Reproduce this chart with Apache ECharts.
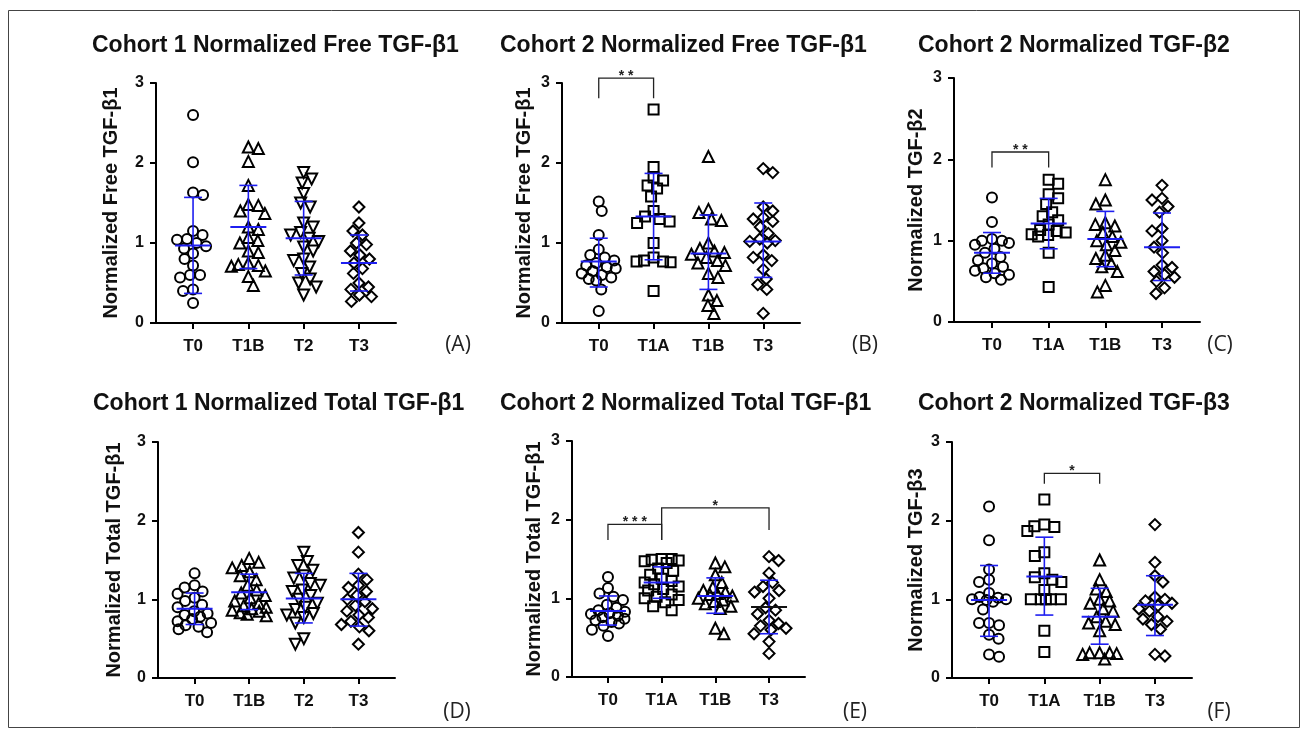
<!DOCTYPE html>
<html><head><meta charset="utf-8">
<script src="https://cdn.jsdelivr.net/npm/echarts@6/dist/echarts.min.js"></script>
<style>html,body{margin:0;padding:0;background:#fff}#c{width:1308px;height:738px}</style>
</head><body><div id="c"></div>
<script>
// ---------- DATA ----------
const titles = ['Cohort 1 Normalized Free TGF-\u03b21','Cohort 2 Normalized Free TGF-\u03b21','Cohort 2 Normalized TGF-\u03b22',
  'Cohort 1 Normalized Total TGF-\u03b21','Cohort 2 Normalized Total TGF-\u03b21','Cohort 2 Normalized TGF-\u03b23'];
const yNames = ['Normalized Free TGF-\u03b21','Normalized Free TGF-\u03b21','Normalized TGF-\u03b22',
  'Normalized Total TGF-\u03b21','Normalized Total TGF-\u03b21','Normalized TGF-\u03b23'];
const panelTags = ['(A)','(B)','(C)','(D)','(E)','(F)'];
const cohort1Cats = ['T0','T1B','T2','T3'];
const cohort2Cats = ['T0','T1A','T1B','T3'];
const yTicks = [0,1,2,3];

// Panel A
const aVals = [
  [2.6,2.01,1.63,1.6,1.15,1.1,1.05,1.04,1.0,0.96,0.93,0.87,0.8,0.72,0.6,0.6,0.57,0.42,0.4,0.25],
  [2.2,2.18,2.02,1.72,1.48,1.47,1.4,1.37,1.2,1.17,1.07,1.03,1.0,0.9,0.88,0.75,0.73,0.72,0.71,0.65,0.58,0.47],
  [1.88,1.8,1.75,1.62,1.5,1.45,1.25,1.2,1.13,1.1,1.06,1.02,0.95,0.9,0.8,0.78,0.7,0.62,0.55,0.5,0.45,0.35],
  [1.45,1.25,1.15,1.1,1.0,0.98,0.9,0.85,0.8,0.75,0.68,0.62,0.5,0.45,0.42,0.35,0.33,0.27]
];
const aMean = [0.97,1.2,1.06,0.75], aLow = [0.37,0.68,0.6,0.4], aHigh = [1.57,1.72,1.52,1.1];
// Panel B
const bVals = [
  [1.52,1.4,1.1,0.92,0.85,0.82,0.78,0.75,0.72,0.7,0.68,0.65,0.62,0.6,0.57,0.55,0.53,0.42,0.15],
  [2.67,1.95,1.82,1.78,1.72,1.68,1.58,1.4,1.33,1.3,1.27,1.25,1.0,0.82,0.78,0.77,0.77,0.76,0.4],
  [2.08,1.42,1.38,1.3,1.28,1.0,0.93,0.9,0.88,0.86,0.82,0.78,0.75,0.72,0.62,0.57,0.35,0.28,0.22,0.12],
  [1.93,1.88,1.45,1.4,1.32,1.3,1.27,1.2,1.12,1.05,1.03,1.02,1.0,0.85,0.82,0.78,0.67,0.55,0.48,0.42,0.12]
];
const bMean = [0.77,1.33,0.87,1.02], bLow = [0.45,0.79,0.42,0.57], bHigh = [1.06,1.87,1.35,1.5];
// Panel C
const cVals = [
  [1.53,1.23,1.02,1.0,1.0,0.97,0.95,0.9,0.85,0.8,0.76,0.72,0.68,0.66,0.63,0.6,0.58,0.55,0.52],
  [1.75,1.7,1.57,1.52,1.45,1.35,1.3,1.25,1.2,1.13,1.12,1.1,1.08,1.07,1.05,0.85,0.43],
  [1.75,1.5,1.45,1.22,1.2,1.18,1.1,1.05,1.0,0.98,0.95,0.88,0.82,0.78,0.72,0.68,0.62,0.45,0.37],
  [1.68,1.52,1.5,1.42,1.35,1.15,1.12,1.0,0.92,0.85,0.7,0.67,0.62,0.58,0.55,0.5,0.42,0.35]
];
const cMean = [0.85,1.21,1.02,0.92], cLow = [0.6,0.9,0.68,0.51], cHigh = [1.1,1.52,1.36,1.34];
// Panel D
const dVals = [
  [1.33,1.18,1.15,1.1,1.07,1.02,0.98,0.93,0.9,0.85,0.82,0.8,0.78,0.75,0.72,0.7,0.67,0.65,0.62,0.58],
  [1.52,1.47,1.43,1.4,1.35,1.3,1.25,1.18,1.12,1.08,1.05,1.02,0.98,0.95,0.92,0.9,0.88,0.86,0.85,0.83,0.81,0.79],
  [1.6,1.48,1.43,1.37,1.3,1.27,1.2,1.18,1.12,1.1,1.05,1.0,0.95,0.9,0.87,0.82,0.8,0.77,0.7,0.5,0.43],
  [1.85,1.6,1.32,1.25,1.18,1.15,1.1,1.05,1.0,0.97,0.92,0.88,0.85,0.8,0.77,0.72,0.68,0.65,0.6,0.43]
];
const dMean = [0.88,1.09,1.01,1.0], dLow = [0.68,0.87,0.7,0.66], dHigh = [1.08,1.32,1.33,1.33];
// Panel E
const eVals = [
  [1.27,1.13,1.06,1.02,0.98,0.92,0.88,0.85,0.83,0.81,0.8,0.78,0.76,0.74,0.72,0.7,0.68,0.65,0.6,0.52],
  [1.5,1.5,1.49,1.48,1.47,1.45,1.38,1.35,1.3,1.25,1.22,1.2,1.18,1.15,1.12,1.1,1.05,1.02,1.0,0.98,0.95,0.9,0.85],
  [1.45,1.4,1.3,1.2,1.14,1.1,1.08,1.06,1.05,1.03,1.0,0.98,0.96,0.93,0.9,0.87,0.62,0.55],
  [1.53,1.48,1.32,1.2,1.15,1.1,1.08,1.0,0.88,0.85,0.8,0.72,0.68,0.65,0.62,0.6,0.55,0.45,0.3]
];
const eMean = [0.84,1.2,1.03,0.89], eLow = [0.66,1.0,0.81,0.55], eHigh = [1.03,1.4,1.26,1.23];
const eMeanColor = ['blue','blue','blue','black'];
// Panel F
const fVals = [
  [2.18,1.75,1.38,1.25,1.22,1.08,1.03,1.02,1.0,1.0,0.99,0.97,0.87,0.7,0.7,0.67,0.55,0.5,0.3,0.27],
  [2.27,1.95,1.93,1.92,1.87,1.6,1.55,1.33,1.28,1.25,1.22,1.12,1.0,1.0,1.0,1.0,1.0,0.6,0.33],
  [1.5,1.25,1.13,1.1,1.0,0.98,0.95,0.88,0.85,0.78,0.72,0.7,0.68,0.6,0.32,0.32,0.32,0.31,0.3,0.24],
  [1.95,1.47,1.3,1.22,1.03,1.0,0.98,0.95,0.92,0.88,0.85,0.78,0.75,0.72,0.68,0.62,0.3,0.28]
];
const fMean = [0.99,1.29,0.78,0.93], fLow = [0.53,0.8,0.43,0.54], fHigh = [1.43,1.79,1.14,1.3];

// significance brackets: [fromCat, toCat, topY, leftEndY, rightEndY]
const bBrackets = [[0,1,3.06,2.81,2.81]], bStars = ['* *'];
const cBrackets = [[0,1,2.09,1.9,1.9]], cStars = ['* *'];
const eBrackets = [[0,1,1.94,1.74,1.74],[1,3,2.15,1.74,1.87]], eStars = ['* * *','*'];
const fBrackets = [[1,2,2.6,2.47,2.47]], fStars = ['*'];

// ---------- LAYOUT ----------
const grids = [
  {left:156, top:83, width:240, height:240, gap:35, tag:[458,345], title:[92,34]},
  {left:562, top:83, width:238, height:240, gap:28, tag:[865,345], title:[500,34]},
  {left:954, top:78, width:246, height:244, gap:28, tag:[1220,345], title:[918,34]},
  {left:158, top:442, width:237, height:236, gap:34, tag:[457,712], title:[93,392]},
  {left:572, top:441, width:233, height:236, gap:28, tag:[855,712], title:[500,392]},
  {left:952, top:442, width:240, height:236, gap:26, tag:[1219,712], title:[918,392]}
];
const xMin = -0.67, xMax = 3.67;
const FONT = '"Liberation Sans", Arial, sans-serif';
const BLUE = '#1e1ef0';

const panelVals = [aVals,bVals,cVals,dVals,eVals,fVals];
const panelMean = [aMean,bMean,cMean,dMean,eMean,fMean];
const panelLow = [aLow,bLow,cLow,dLow,eLow,fLow];
const panelHigh = [aHigh,bHigh,cHigh,dHigh,eHigh,fHigh];
const panelCats = [cohort1Cats,cohort2Cats,cohort2Cats,cohort1Cats,cohort2Cats,cohort2Cats];
const panelBrackets = [[],bBrackets,cBrackets,[],eBrackets,fBrackets];
const panelStars = [[],bStars,cStars,[],eStars,fStars];

const symbolFor = {T0:['circle',0,10], T1A:['rect',0,10], T1B:['triangle',0,11], T2:['triangle',180,11], T3:['diamond',0,11]};

// deterministic beeswarm offsets (in x data units) from values, bounded spread
function swarm(vals, yPx, xPx, d, W) {
  const order = vals.map((v,i)=>i).sort((a,b)=>vals[b]-vals[a]);
  const placed = [], off = new Array(vals.length);
  order.forEach((i, n) => {
    const y = vals[i]*yPx;
    const s = n % 2 ? 1 : -1;
    const cands = [0];
    for (let k = 1; k*0.5 <= W; k++) { cands.push(s*k*0.5, -s*k*0.5); }
    let best = null, bestScore = -1, bestC = 0;
    for (const c of cands) {
      let mind = Infinity;
      for (const p of placed) { const dd = Math.hypot(p.x-c, p.y-y); if (dd < mind) mind = dd; }
      if (mind >= d) { best = c; break; }
      if (mind > bestScore + 0.01) { bestScore = mind; bestC = c; }
    }
    if (best === null) best = bestC;
    placed.push({x:best, y});
    off[i] = best / xPx;
  });
  return off;
}

const option = {
  backgroundColor:'#fff', animation:false,
  title:[], grid:[], xAxis:[], yAxis:[], series:[],
  graphic:[{type:'rect', shape:{x:8.5,y:10.5,width:1291,height:717}, style:{fill:null, stroke:'#444', lineWidth:1}, silent:true}]
};

grids.forEach((g, p) => {
  const cats = panelCats[p];
  option.title.push({text:titles[p], left:g.title[0], top:g.title[1], padding:0,
    textStyle:{fontFamily:FONT, fontWeight:'bold', fontSize:23, color:'#111'}});
  option.grid.push({left:g.left, top:g.top, width:g.width, height:g.height});
  option.xAxis.push({type:'value', gridIndex:p, min:xMin, max:xMax, splitLine:{show:false},
    axisLine:{show:true, onZero:false, lineStyle:{color:'#000', width:2}},
    axisTick:{show:true, customValues:[0,1,2,3], length:6, lineStyle:{color:'#000', width:2}},
    axisLabel:{customValues:[0,1,2,3], formatter:v=>cats[Math.round(v)], margin:15,
      fontFamily:FONT, fontWeight:'bold', fontSize:17, color:'#111'}});
  option.yAxis.push({type:'value', gridIndex:p, min:0, max:3, interval:1, splitLine:{show:false},
    name:yNames[p], nameLocation:'middle', nameGap:g.gap, nameRotate:90,
    nameTextStyle:{fontFamily:FONT, fontWeight:'bold', fontSize:20, color:'#111'},
    axisLine:{show:true, onZero:false, lineStyle:{color:'#000', width:2}},
    axisTick:{show:true, inside:false, customValues:yTicks, length:6, lineStyle:{color:'#000', width:2}},
    axisLabel:{customValues:yTicks, margin:12, fontFamily:FONT, fontWeight:'bold', fontSize:16, color:'#111', formatter:v=>String(v)}});
  const yPx = g.height/3, xPx = g.width/(xMax-xMin);
  panelVals[p].forEach((vals, ci) => {
    const off = swarm(vals, yPx, xPx, 10, 17);
    const sym = symbolFor[cats[ci]];
    option.series.push({type:'scatter', xAxisIndex:p, yAxisIndex:p, z:2,
      symbol:sym[0], symbolRotate:sym[1], symbolSize:sym[2],
      itemStyle:{color:'rgba(255,255,255,0)', borderColor:'#000', borderWidth:2, opacity:1},
      data: vals.map((v,i)=>[ci+off[i], v])});
  });
  const meanColor = p === 4 ? eMeanColor : ['blue','blue','blue','blue'];
  option.series.push({type:'custom', xAxisIndex:p, yAxisIndex:p, z:5, clip:false,
    data: cats.map((c,ci)=>[ci, panelMean[p][ci], panelLow[p][ci], panelHigh[p][ci]]),
    renderItem:(params, api)=>{
      const x = api.value(0);
      const pm = api.coord([x, api.value(1)]), pl = api.coord([x, api.value(2)]), ph = api.coord([x, api.value(3)]);
      const mc = meanColor[params.dataIndex] === 'black' ? '#111' : BLUE;
      const ls = {stroke:BLUE, lineWidth:1.6};
      return {type:'group', children:[
        {type:'line', shape:{x1:pl[0],y1:pl[1],x2:ph[0],y2:ph[1]}, style:ls},
        {type:'line', shape:{x1:ph[0]-9,y1:ph[1],x2:ph[0]+9,y2:ph[1]}, style:ls},
        {type:'line', shape:{x1:pl[0]-9,y1:pl[1],x2:pl[0]+9,y2:pl[1]}, style:ls},
        {type:'line', shape:{x1:pm[0]-18,y1:pm[1],x2:pm[0]+18,y2:pm[1]}, style:{stroke:mc, lineWidth:2}}
      ]};
    }});
  if (panelBrackets[p].length) {
    const stars = panelStars[p];
    option.series.push({type:'custom', xAxisIndex:p, yAxisIndex:p, z:6, clip:false,
      data: panelBrackets[p],
      renderItem:(params, api)=>{
        const a = api.value(0), b = api.value(1), top = api.value(2);
        const p1 = api.coord([a, api.value(3)]), p2 = api.coord([a, top]);
        const p3 = api.coord([b, top]), p4 = api.coord([b, api.value(4)]);
        return {type:'group', children:[
          {type:'polyline', shape:{points:[p1,p2,p3,p4]}, style:{stroke:'#222', lineWidth:1.3, fill:null}},
          {type:'text', x:(p2[0]+p3[0])/2, y:p2[1]-2, style:{text:stars[params.dataIndex], fill:'#222',
            font:'bold 14px '+FONT, align:'center', verticalAlign:'middle', textAlign:'center', textVerticalAlign:'middle'}}
        ]};
      }});
  }
  option.graphic.push({type:'text', x:g.tag[0], y:g.tag[1], silent:true,
    style:{text:panelTags[p], fill:'#222', font:'21px "Open Sans", sans-serif', align:'center', verticalAlign:'middle', textAlign:'center', textVerticalAlign:'middle'}});
});

const chart = echarts.init(document.getElementById('c'), null, {renderer:'canvas'});
chart.setOption(option);
</script></body></html>
